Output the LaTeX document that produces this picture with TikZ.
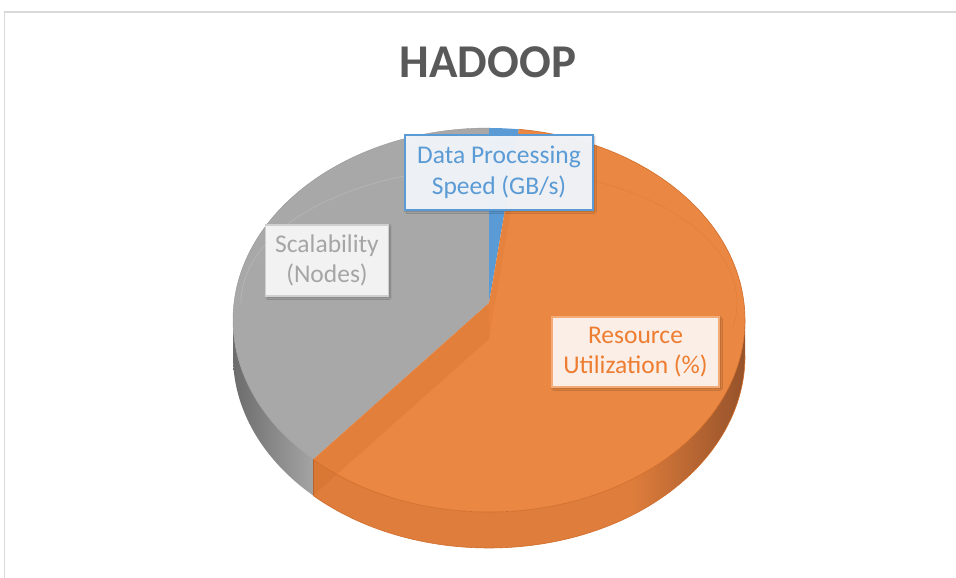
\documentclass[tikz,border=0pt]{standalone}
\usepackage{fontspec}
\setmainfont{Carlito}
\usetikzlibrary{calc,shadows.blur}
\definecolor{gtopc}{HTML}{A8A8A8}
\definecolor{otopc}{HTML}{EA8843}
\definecolor{btopc}{HTML}{5B9BD5}
\definecolor{gsideL}{HTML}{6C6C6C}
\definecolor{gsideR}{HTML}{A4A4A4}
\definecolor{osideA}{HTML}{DE7D3C}
\definecolor{osideB}{HTML}{96522A}
\definecolor{ocutc}{HTML}{C9621E}
\definecolor{orimc}{HTML}{D06C2A}
\definecolor{titlec}{HTML}{595959}
\definecolor{framec}{HTML}{D9D9D9}
\definecolor{bluetxt}{HTML}{5B9BD5}
\definecolor{bluefill}{HTML}{F1F5FA}
\definecolor{graytxt}{HTML}{A5A5A5}
\definecolor{grayfill}{HTML}{F2F2F2}
\definecolor{grayline}{HTML}{CFCFCF}
\definecolor{orangetxt}{HTML}{ED7D31}
\definecolor{orangefill}{HTML}{FBEEE6}
\definecolor{orangeline}{HTML}{F3AC78}
\pgfdeclarehorizontalshading{orside}{100bp}{color(0bp)=(osideA); color(25bp)=(osideA); color(62bp)=(osideA); color(75bp)=(osideB); color(100bp)=(osideB)}
\tikzset{
  ell/.style={x radius=256pt, y radius=192pt},
  lbl/.style={align=center, inner sep=0pt, font=\fontsize{25.5}{30.5}\selectfont,
    blur shadow={shadow blur steps=6, shadow xshift=1.5pt, shadow yshift=-1.5pt, shadow opacity=30}},
  datalbl/.style={lbl, draw=bluetxt, line width=2.2pt, fill=bluefill, fill opacity=0.97, text opacity=1, text=bluetxt, minimum width=188pt, minimum height=75pt},
  scallbl/.style={lbl, draw=grayline, line width=1.5pt, fill=grayfill, text=graytxt, minimum width=123pt, minimum height=71pt},
  reslbl/.style={lbl, draw=orangeline, line width=1.5pt, fill=orangefill, text=orangetxt, minimum width=167pt, minimum height=70pt},
}
\begin{document}
\begin{tikzpicture}[x=1pt,y=1pt]
\useasboundingbox (0,0) rectangle (956,578);
% frame
\draw[framec, line width=1.5pt] (4.5,0) -- (4.5,566) -- (956,566);
% title
\node[anchor=base, text=titlec, font=\fontsize{47}{56}\selectfont\bfseries] (title) at (488,500) {HADOOP};
% pie geometry
\coordinate (C) at (489,258);
\coordinate (P) at (489,275);
\coordinate (Pd) at (489,239);
\path (C) ++(90:256pt and 192pt) coordinate (Rtop);
\path (C) ++(83.3:256pt and 192pt) coordinate (Rb);
\path (C) ++(226.6:256pt and 192pt) coordinate (Rc);
\path (C) ++(180:256pt and 192pt) coordinate (Rl);
% sides
\shade[left color=gsideL, right color=gsideR] (Rl) arc[start angle=180, end angle=226.6, ell] -- ++(0,-36) arc[start angle=226.6, end angle=180, ell] -- cycle;
\shade[shading=orside] (Rc) arc[start angle=226.6, end angle=360, ell] -- ++(0,-36) arc[start angle=360, end angle=226.6, ell] -- cycle;
\draw[orimc, line width=0.6pt] (Rc) ++(0,-36) arc[start angle=226.6, end angle=360, ell];
\draw[osideA!80!black, line width=0.4pt] (Rc) -- ++(0,-36);
% tops
\fill[gtopc] (P) -- (Rtop) arc[start angle=90, end angle=226.6, ell] -- cycle;
\fill[btopc] (P) -- (Rb) arc[start angle=83.3, end angle=90, ell] -- cycle;
\fill[otopc] (P) -- (Rc) arc[start angle=226.6, end angle=443.3, ell] -- cycle;
% cut faces of the orange slice, seen through its translucent top
\fill[ocutc, opacity=0.22] (P) -- (Rc) -- ++(0,-36) -- (Pd) -- cycle;
\fill[ocutc, opacity=0.12] (P) -- (Rb) -- ++(0,-36) -- (Pd) -- cycle;
\draw[orimc, line width=0.6pt] (Rc) arc[start angle=226.6, end angle=443.3, ell];
\draw[gtopc!90!black, line width=0.4pt] (Rtop) arc[start angle=90, end angle=226.6, ell];
% faint inner ring
\draw[white, opacity=0.18, line width=0.6pt] (489,275) ++(180:248pt and 135pt) arc[start angle=180, end angle=92, x radius=248pt, y radius=135pt];
\draw[orimc, opacity=0.3, line width=0.6pt] (489,275) ++(82:248pt and 135pt) arc[start angle=82, end angle=-10, x radius=248pt, y radius=135pt];
% labels
\node[datalbl] (dps) at (499,405.5) {Data Processing\\Speed (GB/s)};
\node[scallbl] (sca) at (327,317.5) {Scalability\\(Nodes)};
\node[reslbl] (res) at (635.5,226) {Resource\\Utilization (\%)};
\end{tikzpicture}
\end{document}
